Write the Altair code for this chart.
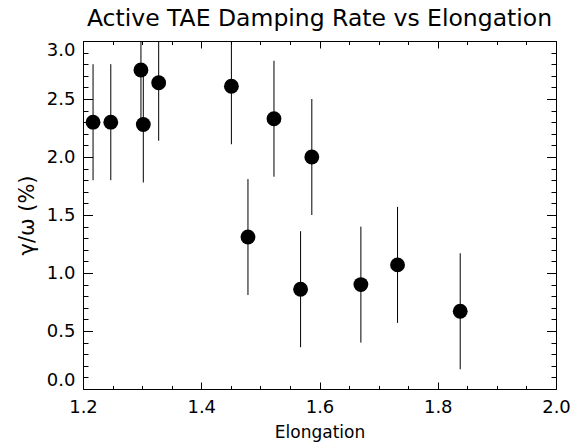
import altair as alt
import pandas as pd

# Measured TAE damping rates (gamma/omega, %) against plasma elongation
elongation = [1.217, 1.247, 1.298, 1.302, 1.328, 1.451, 1.479, 1.523, 1.568, 1.587, 1.670, 1.732, 1.838]
damping = [2.30, 2.30, 2.75, 2.28, 2.64, 2.61, 1.31, 2.33, 0.86, 2.00, 0.90, 1.07, 0.67]
damping_err = [0.5, 0.5, 0.5, 0.5, 0.5, 0.5, 0.5, 0.5, 0.5, 0.5, 0.5, 0.5, 0.5]

# Axis tick positions: labelled majors and the full set including minors
x_labels = [1.2, 1.4, 1.6, 1.8, 2.0]
y_labels = [0.0, 0.5, 1.0, 1.5, 2.0, 2.5, 3.0]
x_ticks = [round(1.2 + 0.05 * i, 2) for i in range(17)]
y_ticks = [round(0.1 * i, 1) for i in range(31)]

W, H = 473, 348
FONT = "DejaVu Sans"

df = pd.DataFrame({"elongation": elongation, "damping": damping, "err": damping_err})
df["lo"] = df["damping"] - df["err"]
df["hi"] = df["damping"] + df["err"]

x_scale = alt.Scale(domain=[1.2, 2.0], nice=False, zero=False)
y_scale = alt.Scale(domain=[0.0, 3.0], nice=False, zero=False)

x_major = "abs(datum.value * 5 - round(datum.value * 5)) < 0.001"
y_major = "abs(datum.value * 2 - round(datum.value * 2)) < 0.001"


def inward_x(orient):
    # tick-only axis moved onto the opposite edge so its ticks point into the plot
    return alt.Axis(
        orient=orient, offset=-H, values=x_ticks, labels=False, domain=False,
        grid=False, title=None, ticks=True, tickColor="black", tickWidth=1,
        tickSize={"condition": {"test": x_major, "value": 7}, "value": 3.5},
    )


def inward_y(orient):
    return alt.Axis(
        orient=orient, offset=-W, values=y_ticks, labels=False, domain=False,
        grid=False, title=None, ticks=True, tickColor="black", tickWidth=1,
        tickSize={"condition": {"test": y_major, "value": 9.5}, "value": 5},
    )


label_style = dict(
    labelFont=FONT, labelFontSize=18, labelColor="black", labelFontWeight="normal",
    titleFont=FONT, titleColor="black", titleFontWeight="normal",
    ticks=False, domain=False, grid=False, format=".1f",
)

points = alt.Chart(df).mark_circle(size=220, color="black", opacity=1).encode(
    x=alt.X("elongation:Q", scale=x_scale,
            axis=alt.Axis(orient="bottom", values=x_labels, labelFlush=False,
                          labelPadding=9, title="Elongation", titlePadding=8,
                          titleFontSize=17, **label_style)),
    y=alt.Y("damping:Q", scale=y_scale,
            axis=alt.Axis(orient="left", values=y_labels, labelFlush=True,
                          labelPadding=8, title="γ/ω (%)", titlePadding=9,
                          titleFontSize=21, **label_style)),
)

error_bars = alt.Chart(df).mark_rule(color="black", strokeWidth=1, clip=True).encode(
    x=alt.X("elongation:Q", scale=x_scale, axis=inward_x("top")),
    y=alt.Y("lo:Q", scale=y_scale, axis=inward_y("right")),
    y2="hi:Q",
)

frame_ticks = alt.Chart(df).mark_point(opacity=0).encode(
    x=alt.X("elongation:Q", scale=x_scale, axis=inward_x("bottom")),
    y=alt.Y("damping:Q", scale=y_scale, axis=inward_y("left")),
)

chart = (
    alt.layer(error_bars, points, frame_ticks)
    .resolve_axis(x="independent", y="independent")
    .properties(
        width=W,
        height=H,
        title=alt.TitleParams(
            text="Active TAE Damping Rate vs Elongation",
            font=FONT, fontSize=23.5, fontWeight="normal", color="black",
            anchor="middle", frame="group", baseline="alphabetic", offset=16,
            dy=25,
        ),
        autosize=alt.AutoSizeParams(type="none"),
        padding={"left": 83, "top": 41, "right": 19, "bottom": 56},
        background="white",
    )
    .configure_view(stroke="black", strokeWidth=1)
)

chart.save("out.html", embed_options={"renderer": "svg", "actions": False})
